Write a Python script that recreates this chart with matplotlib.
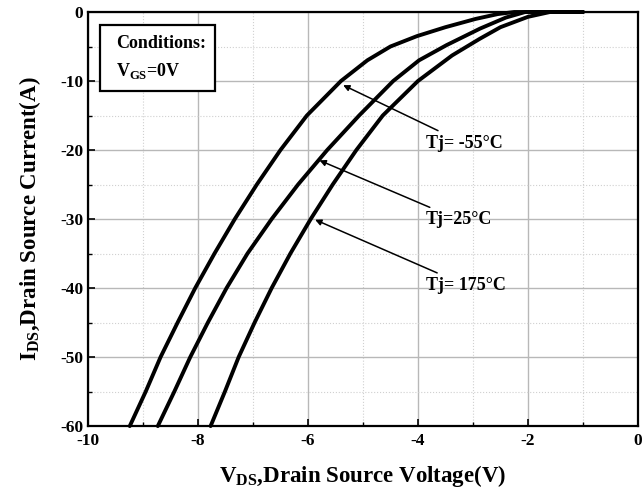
import numpy as np
import matplotlib
matplotlib.use("Agg")
import matplotlib.pyplot as plt
from matplotlib.ticker import MultipleLocator
from matplotlib.patches import Rectangle

plt.rcParams['font.family'] = ['Liberation Serif', 'DejaVu Serif']
plt.rcParams['font.weight'] = 'bold'
plt.rcParams['axes.unicode_minus'] = False
plt.rcParams['mathtext.fontset'] = 'custom'
plt.rcParams['mathtext.rm'] = 'Liberation Serif:bold'
plt.rcParams['mathtext.bf'] = 'Liberation Serif:bold'

# curvas (V_DS, I_DS)
i_m55 = [-60, -55, -50, -45, -40, -35, -30, -25, -20, -15, -10, -7, -5, -3.5, -2.2, -1.0, -0.3, 0, 0]
v_m55 = [-9.24, -8.95, -8.68, -8.37, -8.05, -7.70, -7.33, -6.93, -6.50, -6.02, -5.40, -4.92, -4.50, -4.02, -3.50, -2.95, -2.55, -2.25, -1.0]

i_25 = [-60, -55, -50, -45, -40, -35, -30, -25, -20, -15, -10, -7, -4.8, -2.4, -0.8, 0, 0]
v_25 = [-8.73, -8.43, -8.14, -7.82, -7.48, -7.10, -6.66, -6.18, -5.65, -5.07, -4.45, -3.98, -3.48, -2.87, -2.40, -2.05, -1.0]

i_175 = [-60, -55, -50, -45, -40, -35, -30, -25, -20, -15, -10, -6.3, -3.9, -2.2, -0.7, 0, 0]
v_175 = [-7.77, -7.51, -7.26, -6.97, -6.66, -6.32, -5.95, -5.55, -5.12, -4.64, -4.00, -3.38, -2.88, -2.50, -2.00, -1.60, -1.0]

etiquetas = ["Tj= -55°C", "Tj=25°C", "Tj= 175°C"]
puntas = [(-5.36, -10.6), (-5.79, -21.5), (-5.87, -30.1)]
textos = [(-3.86, -19.0), (-3.86, -30.1), (-3.86, -39.6)]

fig = plt.figure(figsize=(6.44, 4.92), dpi=100)
ax = fig.add_axes([0.1366, 0.134, 0.854, 0.8416])

for v, i in [(v_m55, i_m55), (v_25, i_25), (v_175, i_175)]:
    ax.plot(v, i, color='black', lw=2.8, solid_capstyle='round',
            solid_joinstyle='round', clip_on=False, zorder=3)

for lab, tip, txt in zip(etiquetas, puntas, textos):
    ax.annotate(lab, xy=tip, xytext=txt, fontsize=13, fontweight='bold',
                va='center', ha='left',
                arrowprops=dict(arrowstyle='-|>', color='black', lw=1.1,
                                mutation_scale=9, shrinkA=2, shrinkB=0))

ax.set_xlim(-10, 0)
ax.set_ylim(-60, 0)
ax.xaxis.set_major_locator(MultipleLocator(2))
ax.xaxis.set_minor_locator(MultipleLocator(1))
ax.yaxis.set_major_locator(MultipleLocator(10))
ax.yaxis.set_minor_locator(MultipleLocator(5))
ax.grid(which='major', color='#b8b8b8', lw=1.0, ls='-')
ax.grid(which='minor', color='#d0d0d0', lw=0.8, ls=':')
ax.tick_params(which='both', direction='in', top=False, right=False, labelsize=12.5)
ax.tick_params(which='major', length=5, width=1.2)
ax.tick_params(which='minor', length=3, width=1.0)
ax.tick_params(axis='x', pad=5)
for s in ax.spines.values():
    s.set_linewidth(1.6)
for t in ax.get_xticklabels() + ax.get_yticklabels():
    t.set_fontweight('bold')

ax.set_xlabel(r'V$_{\rm DS}$,Drain Source Voltage(V)', fontsize=16.5, fontweight='bold', labelpad=10)
ax.set_ylabel(r'I$_{\rm DS}$,Drain Source Current(A)', fontsize=16.5, fontweight='bold', labelpad=12)

# cuadro de condiciones
ax.add_patch(Rectangle((-9.78, -11.4), 2.09, 9.5, fc='white', ec='black', lw=1.6, zorder=5))
ax.text(-9.49, -4.5, 'Conditions:', fontsize=13, fontweight='bold', va='center', ha='left', zorder=6)
ax.text(-9.49, -8.6, r'V$_{\rm GS}$=0V', fontsize=13, fontweight='bold', va='center', ha='left', zorder=6)

fig.savefig('out.png', dpi=100)
